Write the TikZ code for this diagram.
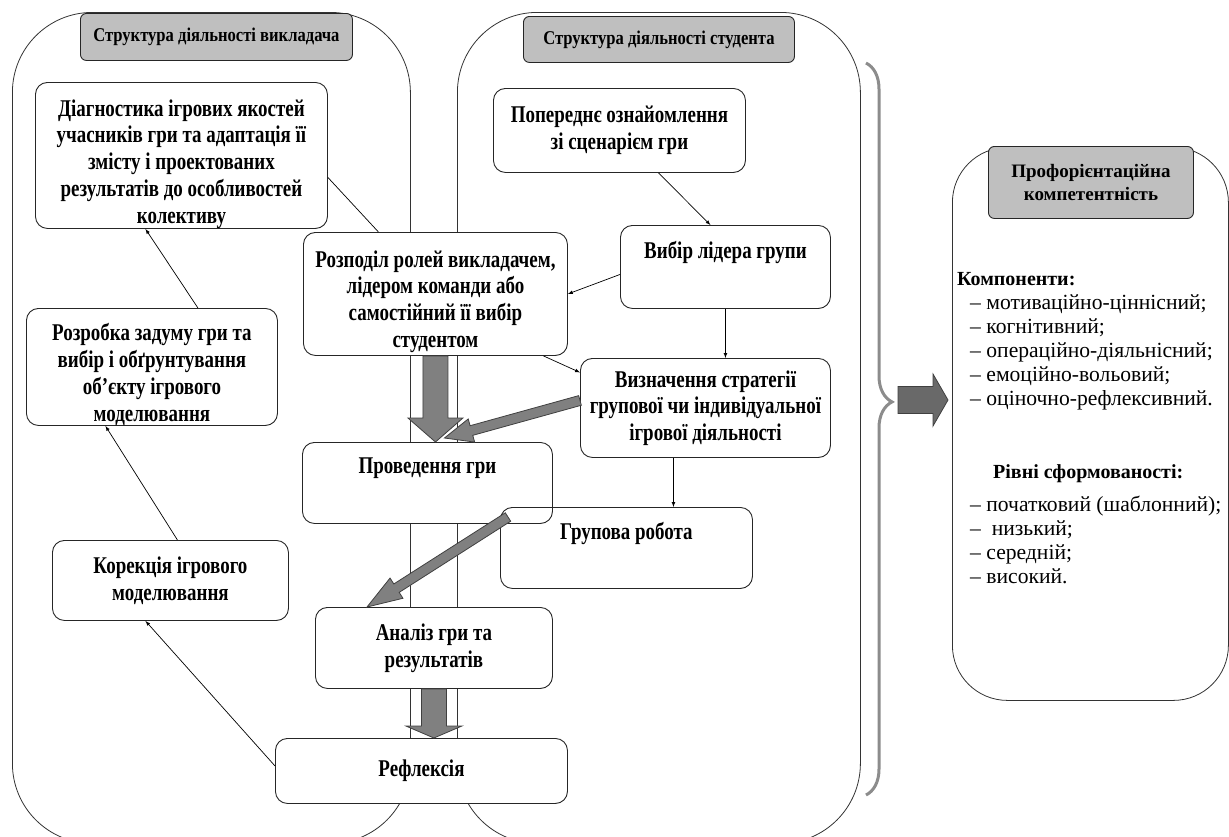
\documentclass[tikz,border=0pt]{standalone}
\usepackage{fontspec}
\setmainfont{Liberation Serif}[FakeStretch=0.79]
\newfontfamily\headfont{Liberation Serif}[FakeStretch=0.85]
\newfontfamily\listfont{Liberation Serif}
\usetikzlibrary{calc,decorations.pathreplacing}

\definecolor{hdrgray}{RGB}{191,191,191}
\definecolor{arrgray}{RGB}{128,128,128}
\definecolor{darkarr}{RGB}{105,105,105}
\definecolor{bracegray}{RGB}{140,140,140}

\newcommand{\fatarrow}[6][]{%
    \coordinate (fa-h) at ($(#3)!#6!(#2)$);
    \draw[fat,#1] ($(#2)!#4!90:(#3)$) -- ($(fa-h)!#4!-90:(#2)$) -- ($(fa-h)!#5!-90:(#2)$)
        -- (#3) -- ($(fa-h)!#5!90:(#2)$) -- ($(fa-h)!#4!90:(#2)$) -- ($(#2)!#4!-90:(#3)$) -- cycle;
}

\begin{document}
\begin{tikzpicture}[x=1pt, y=-1pt,
    box/.style={draw=black!85, line width=0.9pt, rounded corners=12pt, fill=white,
        anchor=north west, align=center, inner sep=2pt,
        font=\fontsize{24}{26.7}\selectfont\bfseries},
    txt/.style={align=center, inner sep=0pt, font=\fontsize{24}{26.7}\selectfont\bfseries},
    head/.style={draw=black!85, line width=0.9pt, rounded corners=6pt, fill=hdrgray,
        anchor=north west, align=center, inner sep=0pt,
        font=\headfont\fontsize{19.5}{23}\selectfont\bfseries},
    frame/.style={draw=black!80, line width=0.8pt, rounded corners=80pt,
        anchor=north west, inner sep=0pt},
    fat/.style={draw=black!75, line width=0.8pt, fill=arrgray},
]

    \useasboundingbox (0,0) rectangle (1229,836);
    \clip (0,0) rectangle (1229,836);

    \node[frame, minimum width=398pt, minimum height=831pt] (teacher) at (12,12) {};
    \node[frame, minimum width=403pt, minimum height=831pt] (student) at (457,12) {};

    \node[head, minimum width=272pt, minimum height=47pt] (teachhead) at (80,13)
    {Структура діяльності викладача};
    \node[head, minimum width=271pt, minimum height=46pt] (studhead) at (523,16)
    {Структура діяльності студента};

    % teacher side
    \node[box, minimum width=292pt, minimum height=146pt] (diag) at (35,82) {};
    \node[txt] (diagtext) at ([yshift=-8.5pt]diag.center)
    {Діагностика ігрових якостей\\учасників гри та адаптація її\\змісту і проектованих\\результатів до особливостей\\колективу};

    \node[box, minimum width=251pt, minimum height=117pt] (design) at (26,308) {};
    \node[txt] (designtext) at ([yshift=-7.5pt]design.center)
    {Розробка задуму гри та\\вибір і обґрунтування\\об’єкту ігрового\\моделювання};

    \node[box, minimum width=236pt, minimum height=80pt] (correct) at (52,540)
    {Корекція ігрового\\моделювання};

    % student side
    \node[box, minimum width=252pt, minimum height=84pt] (preview) at (493,88)
    {Попереднє ознайомлення\\зі сценарієм гри};
    \node[box, minimum width=210pt, minimum height=83pt] (leader) at (620,225)
    {Вибір лідера групи\\ \strut};

    \node[box, minimum width=264pt, minimum height=123pt] (roles) at (303,232) {};
    \node[txt] (rolestext) at ([yshift=-7.5pt]roles.center)
    {Розподіл ролей викладачем,\\лідером команди або\\самостійний її вибір\\студентом};

    \node[box, minimum width=250pt, minimum height=99pt] (strategy) at (580,358)
    {Визначення стратегії\\групової чи індивідуальної\\ігрової діяльності};
    \node[box, minimum width=250pt, minimum height=81pt] (conduct) at (302,442)
    {Проведення гри\\ \strut};
    \node[box, minimum width=252pt, minimum height=81pt, fill=none] (group) at (500,507)
    {Групова робота\\ \strut};
    \node[box, minimum width=237pt, minimum height=81pt] (analysis) at (315,607)
    {Аналіз гри та\\результатів};
    \node[box, minimum width=292pt, minimum height=65pt] (reflect) at (275,738)
    {Рефлексія};

    \draw[->,>=latex, line width=0.7pt] ([xshift=46pt]design.north) -- ([xshift=-36pt]diag.south);
    \draw[->,>=latex, line width=0.7pt] ([xshift=7pt]correct.north) -- ([xshift=-46.5pt]design.south);
    \draw[->,>=latex, line width=0.7pt] ([yshift=5pt]reflect.west) -- ([xshift=-25pt]correct.south);
    \draw[line width=0.7pt] ([yshift=-22pt]diag.east) -- ([xshift=-57pt]roles.north);

    \draw[->,>=latex, line width=0.7pt] ([xshift=39pt]preview.south) -- ([xshift=-15pt]leader.north);
    \draw[->,>=latex, line width=0.7pt] ([yshift=-7.5pt]leader.west) -- (roles.east);
    \draw[->,>=latex, line width=0.7pt] (leader.south) -- (leader.south |- strategy.north);
    \draw[->,>=latex, line width=0.7pt] ([xshift=108pt]roles.south) -- ([yshift=35.5pt]strategy.west);
    \draw[->,>=latex, line width=0.7pt] ([xshift=-32pt]strategy.south) -- ([xshift=-32pt]strategy.south |- group.north);

    % thick arrows
    \coordinate (rolestip) at (roles.south |- conduct.north);
    \coordinate (stratfoot) at ([yshift=7.5pt]strategy.west);
    \coordinate (meet) at ([xshift=17pt,yshift=4pt]conduct.north);
    \coordinate (groupfoot) at ([xshift=8pt,yshift=-10pt]group.north west);
    \coordinate (analysistip) at ([xshift=52pt]analysis.north west);
    \coordinate (reflecttip) at (analysis.south |- reflect.north);

    \fatarrow{roles.south}{rolestip}{12.5pt}{27.5pt}{24pt}
    \fatarrow{stratfoot}{meet}{5pt}{12pt}{28pt}
    \fatarrow{groupfoot}{analysistip}{5pt}{12pt}{35pt}
    \fatarrow{analysis.south}{reflecttip}{12.5pt}{28pt}{12pt}

    % result
    \coordinate (bracetop) at (866,63);
    \coordinate (bracebot) at (866,795);
    \draw[bracegray, line width=3pt, decorate,
        decoration={brace, amplitude=26pt, aspect=0.463}] (bracetop) -- (bracebot);

    \coordinate (resfrom) at (898,400);
    \coordinate (resto) at (948,400);
    \fatarrow[fill=darkarr]{resfrom}{resto}{13.5pt}{26pt}{15pt}

    \node[frame, rounded corners=55pt, minimum width=276pt, minimum height=553pt] (compet) at (952,147) {};
    \node[head, minimum width=205pt, minimum height=72pt,
        font=\listfont\fontsize{19}{23}\selectfont\bfseries] (comphead) at (988,146)
    {Профорієнтаційна\\компетентність};

    \node[anchor=north west, align=left, inner sep=0pt,
        font=\listfont\fontsize{21.6}{24}\selectfont] (complist) at (957,272)
    {{\fontsize{20}{24}\selectfont\bfseries Компоненти:}\\
    \hspace*{13pt}– мотиваційно-ціннісний;\\
    \hspace*{13pt}– когнітивний;\\
    \hspace*{13pt}– операційно-діяльнісний;\\
    \hspace*{13pt}– емоційно-вольовий;\\
    \hspace*{13pt}– оціночно-рефлексивний.\\[49pt]
    \hspace*{36pt}{\fontsize{20}{24}\selectfont\bfseries Рівні сформованості:}\\[9pt]
    \hspace*{13pt}– початковий (шаблонний);\\
    \hspace*{13pt}– \ низький;\\
    \hspace*{13pt}– середній;\\
    \hspace*{13pt}– високий.};

\end{tikzpicture}
\end{document}
